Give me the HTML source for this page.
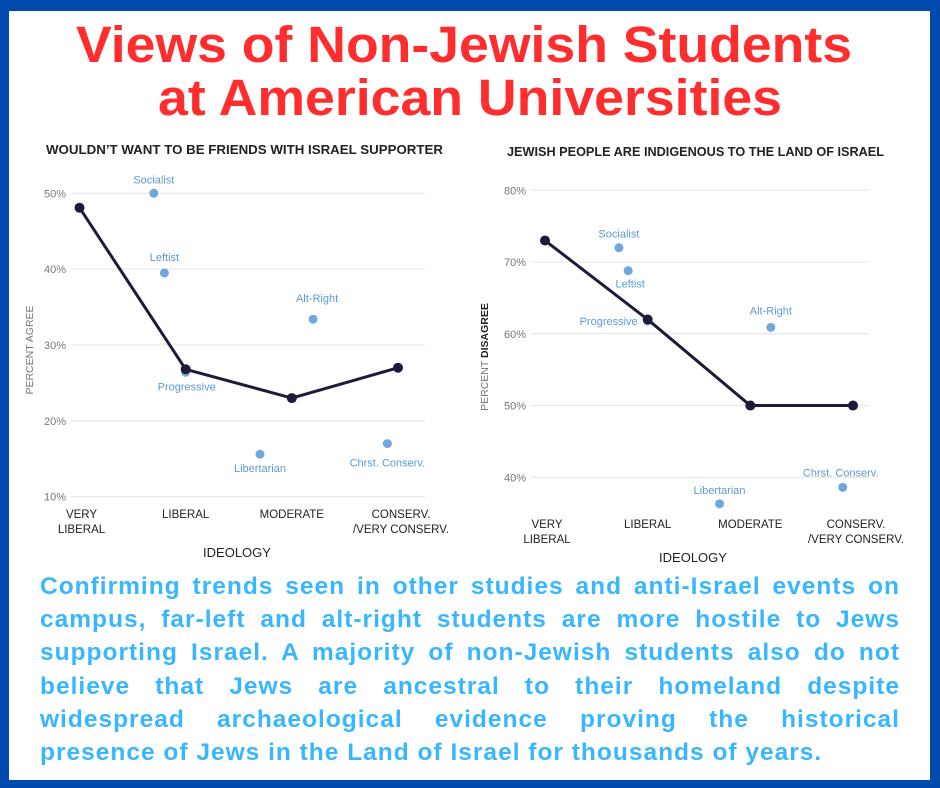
<!DOCTYPE html>
<html><head><meta charset="utf-8"><style>
body{margin:0;background:#fff}
#wrap{position:relative;width:940px;height:788px;background:#004aad;overflow:hidden}
#inner{position:absolute;left:9px;top:11px;width:921px;height:769px;background:#fff}
.para{position:absolute;left:40px;width:860px;font:bold 24.5px "Liberation Sans",sans-serif;letter-spacing:1px;color:#38b6ff;white-space:nowrap}
.j{text-align:justify;text-align-last:justify}
svg text{font-family:"Liberation Sans",sans-serif}
</style></head><body>
<div id="wrap">
<div id="inner"></div>
<svg id="svg" width="940" height="788" style="position:absolute;left:0;top:0">
<text x="464" y="62" text-anchor="middle" font-size="51" font-weight="bold" fill="#ff2d2d" textLength="776" lengthAdjust="spacingAndGlyphs">Views of Non-Jewish Students</text>
<text x="470" y="115" text-anchor="middle" font-size="51" font-weight="bold" fill="#ff2d2d" textLength="624" lengthAdjust="spacingAndGlyphs">at American Universities</text>
</svg>
<div class="para j" style="top:573px">Confirming trends seen in other studies and anti-Israel events on</div>
<div class="para j" style="top:606px">campus, far-left and alt-right students are more hostile to Jews</div>
<div class="para j" style="top:639px">supporting Israel. A majority of non-Jewish students also do not</div>
<div class="para j" style="top:673px">believe that Jews are ancestral to their homeland despite</div>
<div class="para j" style="top:706px">widespread archaeological evidence proving the historical</div>
<div class="para" style="top:739px">presence of Jews in the Land of Israel for thousands of years.</div>
</div>
<script>
const categories = ["VERY|LIBERAL","LIBERAL","MODERATE","CONSERV.|/VERY CONSERV."];
const leftLine = [48.1, 26.8, 23, 27];
const leftTicks = [10,20,30,40,50];
const groupNames = ["Socialist","Leftist","Progressive","Alt-Right","Libertarian","Chrst. Conserv."];
const leftGroupPos = [0.7, 0.8, 1.0, 2.2, 1.7, 2.9];
const leftGroupVals = [50, 39.5, 26.4, 33.4, 15.6, 17];
const rightLine = [73, 62, 50, 50];
const rightTicks = [40,50,60,70,80];
const rightGroupPos = [0.72, 0.81, 1.0, 2.2, 1.7, 2.9];
const rightGroupVals = [72, 68.8, 61.8, 60.9, 36.3, 38.6];

const svg=document.getElementById('svg');
const NS='http://www.w3.org/2000/svg';
function mk(tag,attrs,txt){const e=document.createElementNS(NS,tag);for(const k in attrs)e.setAttribute(k,attrs[k]);if(txt!==undefined)e.textContent=txt;svg.appendChild(e);return e;}

function chart(cfg){
  const y=v=>cfg.y0+(v-cfg.vmin)/(cfg.vmax-cfg.vmin)*(cfg.y1-cfg.y0);
  const x=i=>cfg.x0+i*(cfg.x3-cfg.x0)/3;
  let t=mk('text',{x:cfg.titleX,y:cfg.titleY,'font-size':12.5,'font-weight':'bold',fill:'#222',textLength:cfg.titleW,lengthAdjust:'spacingAndGlyphs'},cfg.title);
  
  
  cfg.ticks.forEach(v=>{
    const g=mk('line',{x1:cfg.gx0,x2:cfg.gx1,y1:y(v),y2:y(v),stroke:'#e4e4e4','stroke-width':1});
    
    
    const l=mk('text',{x:cfg.gx0-5,y:y(v)+4,'text-anchor':'end','font-size':11,fill:'#777'},v+'%');
    
    
  });
  const ya=mk('text',{transform:`translate(${cfg.yLabX},${cfg.yLabY}) rotate(-90)`,'text-anchor':'middle','font-size':10.5,fill:'#777'});
  ya.innerHTML=cfg.yLabel;
  
  
  categories.forEach((c,i)=>{
    c.split('|').forEach((p,k)=>{
      const e=mk('text',{x:x(i)+(i==0?2:0)+(i==3?3:0),y:cfg.catY+k*15,'text-anchor':'middle','font-size':11.5,fill:'#222'},p);
      
      
    });
  });
  const xt=mk('text',{x:cfg.xTitleX,y:cfg.xTitleY,'text-anchor':'middle','font-size':13,fill:'#222'},'IDEOLOGY');
  
  
  cfg.gvals.forEach((v,i)=>{
    const d=mk('circle',{cx:x(cfg.gpos[i]),cy:y(v),r:4.5,fill:'#6fa8dc'});
    
    
    const o=cfg.labOff[i];
    const l=mk('text',{x:x(cfg.gpos[i])+o[0],y:y(v)+o[1],'text-anchor':o[2]||'middle','font-size':11,fill:'#5b9bd5'},groupNames[i]);
    
    
  });
  const pl=mk('polyline',{points:cfg.line.map((v,i)=>x(i)+','+y(v)).join(' '),fill:'none',stroke:'#1e1b3a','stroke-width':3,'stroke-linejoin':'round'});
  
  
  cfg.line.forEach((v,i)=>{
    const p=mk('circle',{cx:x(i),cy:y(v),r:5,fill:'#1e1b3a'});
    
    
  });
}
chart({id:'left',title:'WOULDN\u2019T WANT TO BE FRIENDS WITH ISRAEL SUPPORTER',titleX:46,titleY:154,titleW:397,
  vmin:10,vmax:50,y0:496.7,y1:193.3,x0:79.5,x3:398,gx0:71,gx1:425,ticks:leftTicks,
  yLabX:33,yLabY:350,yLabel:'PERCENT AGREE',catY:518,xTitleX:237,xTitleY:557,
  line:leftLine,gpos:leftGroupPos,gvals:leftGroupVals,
  labOff:[[0,-10],[0,-12],[1,18],[4,-17],[0,18],[0,23]]});
chart({id:'right',title:'JEWISH PEOPLE ARE INDIGENOUS TO THE LAND OF ISRAEL',titleX:507,titleY:156,titleW:377,
  vmin:40,vmax:80,y0:477.3,y1:190.3,x0:545,x3:853,gx0:531,gx1:869,ticks:rightTicks,
  yLabX:488,yLabY:357,yLabel:'PERCENT <tspan font-weight="bold" fill="#222">DISAGREE</tspan>',catY:528,xTitleX:693,xTitleY:562,
  line:rightLine,gpos:rightGroupPos,gvals:rightGroupVals,
  labOff:[[0,-10],[2,17],[-10,4,'end'],[0,-13],[0,-10],[-2,-11]]});
</script>
</body></html>
